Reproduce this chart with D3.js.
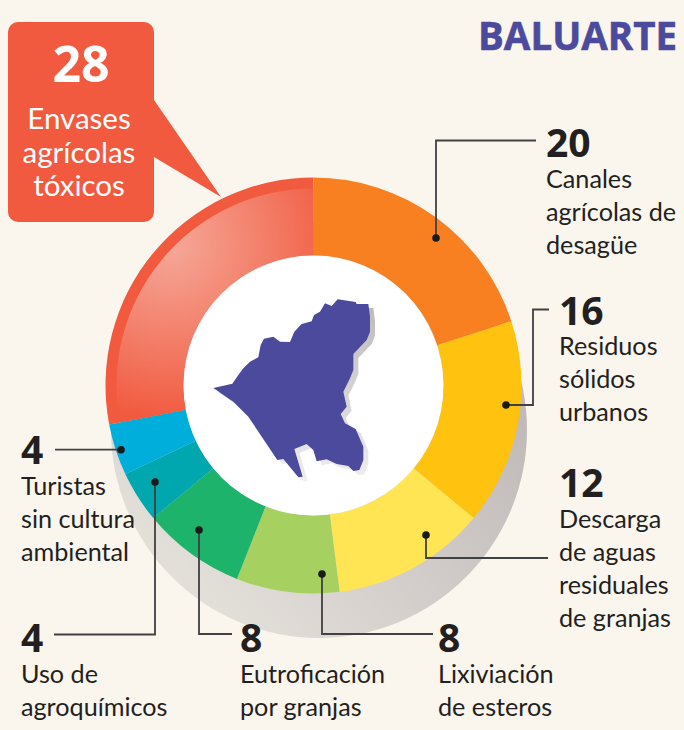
<!DOCTYPE html>
<html><head><meta charset="utf-8">
<script src="https://cdn.jsdelivr.net/npm/d3@7/dist/d3.min.js"></script>
<style>html,body{margin:0;padding:0;background:#faf5ed}svg{display:block}text{font-family:"Lato","Open Sans",sans-serif}text.num{font-family:"Open Sans",sans-serif;font-weight:700}</style>
</head><body><svg id="c" width="684" height="730"></svg>
<script>
const title = "BALUARTE";
const categories = ["Canales agrícolas de desagüe","Residuos sólidos urbanos","Descarga de aguas residuales de granjas","Lixiviación de esteros","Eutroficación por granjas","Uso de agroquímicos","Turistas sin cultura ambiental","Envases agrícolas tóxicos"];
const values = [20,16,12,8,8,4,4,28];
const colors = ["#f98020","#ffc20e","#ffe553","#a6d05f","#1eb36a","#00a7ae","#00aedb","url(#redFill)"];
const labelLines = [["Canales","agrícolas de","desagüe"],["Residuos","sólidos","urbanos"],["Descarga","de aguas","residuales","de granjas"],["Lixiviación","de esteros"],["Eutroficación","por granjas"],["Uso de","agroquímicos"],["Turistas","sin cultura","ambiental"]];
const calloutLines = ["Envases","agrícolas","tóxicos"];

// layout: text anchor (x, number baseline, first text baseline), leader path waypoints
const labelLayout = [
 {x:546,ny:157,ty:188,lh:33,path:[[436,238],[436,140.5],[536,140.5]]},
 {x:559,ny:324.5,ty:354.5,lh:33,path:[[506,405],[533,405],[533,309.5],[549,309.5]]},
 {x:559,ny:497,ty:527.5,lh:33.2,path:[[426,535],[426,558],[548,558]]},
 {x:438,ny:651.5,ty:683,lh:33,path:[[322,574],[322,634],[433,634]]},
 {x:240,ny:651.5,ty:683,lh:33,path:[[199,530],[199,634],[232,634]]},
 {x:21,ny:651.5,ty:683,lh:33,path:[[155,482],[155,634.5],[54,634.5]]},
 {x:21,ny:463.5,ty:494.5,lh:33.3,path:[[121,449.7],[55,449.7]]}
];
const mapOutline = [[70,384],[127,371],[145,345],[160,325],[180,305],[205,292],[212,255],[222,236],[250,230],[270,245],[300,246],[313,215],[335,192],[365,184],[372,165],[390,155],[405,130],[425,138],[443,118],[497,126],[500,132],[535,132],[540,170],[540,215],[530,240],[490,282],[490,330],[480,355],[460,395],[470,440],[452,462],[465,490],[497,507],[520,560],[520,600],[508,630],[490,633],[475,618],[440,612],[410,598],[380,604],[370,570],[350,552],[313,567],[338,650],[325,652],[280,597],[262,600],[175,470],[130,425]];

const svg = d3.select("#c");
const W=684,H=730,cx=313.5,cy=385.5,R=208,Ri=130,Rrim=197;
svg.append("rect").attr("width",W).attr("height",H).attr("fill","#faf5ed");
const defs = svg.append("defs");
const rg = defs.append("radialGradient").attr("id","redFill").attr("gradientUnits","userSpaceOnUse")
 .attr("cx",170-cx).attr("cy",245-cy).attr("r",175);
rg.append("stop").attr("offset",0).attr("stop-color","#f6a899");
rg.append("stop").attr("offset",.5).attr("stop-color","#f3826d");
rg.append("stop").attr("offset",1).attr("stop-color","#f15a3f");
const sg = defs.append("linearGradient").attr("id","shadow").attr("gradientUnits","userSpaceOnUse")
 .attr("x1",500).attr("y1",400).attr("x2",250).attr("y2",640);
sg.append("stop").attr("offset",0).attr("stop-color","#c0bab9");
sg.append("stop").attr("offset",1).attr("stop-color","#e2ded8");

svg.append("circle").attr("cx",cx+5.5).attr("cy",cy+44.5).attr("r",R).attr("fill","url(#shadow)");

const pie = d3.pie().value(d=>d).sort(null);
const arcs = pie(values);
const arc = d3.arc().innerRadius(Ri).outerRadius(R);
const g = svg.append("g").attr("transform",`translate(${cx},${cy})`);
// red rim under the gradient part of the biggest slice
g.append("path").attr("d",arc(arcs[7])).attr("fill","#f15a3f");
arcs.forEach((a,i)=>{
  if(i===7){
    g.append("path").attr("d",d3.arc().innerRadius(Ri).outerRadius(Rrim)(a)).attr("fill",colors[i]);
  } else {
    g.append("path").attr("d",arc(a)).attr("fill",colors[i]);
  }
});
svg.append("circle").attr("cx",cx).attr("cy",cy).attr("r",Ri).attr("fill","#fff");

// region map
const mx=d3.scaleLinear().domain([0,210*3]).range([190,400]);
const my=d3.scaleLinear().domain([0,240*3]).range([260,500]);
const mapLine=d3.line().x(d=>mx(d[0])).y(d=>my(d[1])).curve(d3.curveLinearClosed);
const sh=defs.append("linearGradient").attr("id","mapSh").attr("x1",0).attr("y1",0).attr("x2",0).attr("y2",1);
sh.append("stop").attr("offset",0).attr("stop-color","#bcb8bb");
sh.append("stop").attr("offset",1).attr("stop-color","#efedef");
svg.append("path").attr("d",mapLine(mapOutline)).attr("fill","url(#mapSh)").attr("transform","translate(5,4)");
svg.append("path").attr("d",mapLine(mapOutline)).attr("fill","#4c4a9c");

// callout
svg.append("path").attr("fill","#f15a3f")
 .attr("d","M18,22H144a10,10 0 0 1 10,10V100L221,197L154,157V212a10,10 0 0 1 -10,10H18a10,10 0 0 1 -10,-10V32a10,10 0 0 1 10,-10Z");
svg.append("text").attr("class","num").text(values[7]).attr("x",81).attr("y",82).attr("text-anchor","middle").attr("fill","#fff").attr("font-size",50);
calloutLines.forEach((t,i)=>svg.append("text").text(t).attr("x",79).attr("y",[129,163,196][i]).attr("text-anchor","middle").attr("fill","#fff").attr("font-size",29.5));

svg.append("text").attr("class","num").text(title).attr("x",677).attr("y",49.5).attr("text-anchor","end").attr("fill","#4c4a9c").attr("stroke","#4c4a9c").attr("stroke-width",0.6).attr("font-size",39).attr("textLength",199).attr("lengthAdjust","spacingAndGlyphs");

// leaders & labels
const line=d3.line();
labelLayout.forEach((L,i)=>{
  svg.append("path").attr("d",line(L.path)).attr("fill","none").attr("stroke","#414042").attr("stroke-width",1.8);
  svg.append("circle").attr("cx",L.path[0][0]).attr("cy",L.path[0][1]).attr("r",3.8).attr("fill","#1a1a1a");
  svg.append("text").attr("class","num").text(values[i]).attr("x",L.x).attr("y",L.ny).attr("fill","#231f20").attr("font-size",39);
  labelLines[i].forEach((t,j)=>svg.append("text").text(t).attr("x",L.x).attr("y",L.ty+j*L.lh).attr("fill","#231f20").attr("font-size",25.2));
});
</script></body></html>
